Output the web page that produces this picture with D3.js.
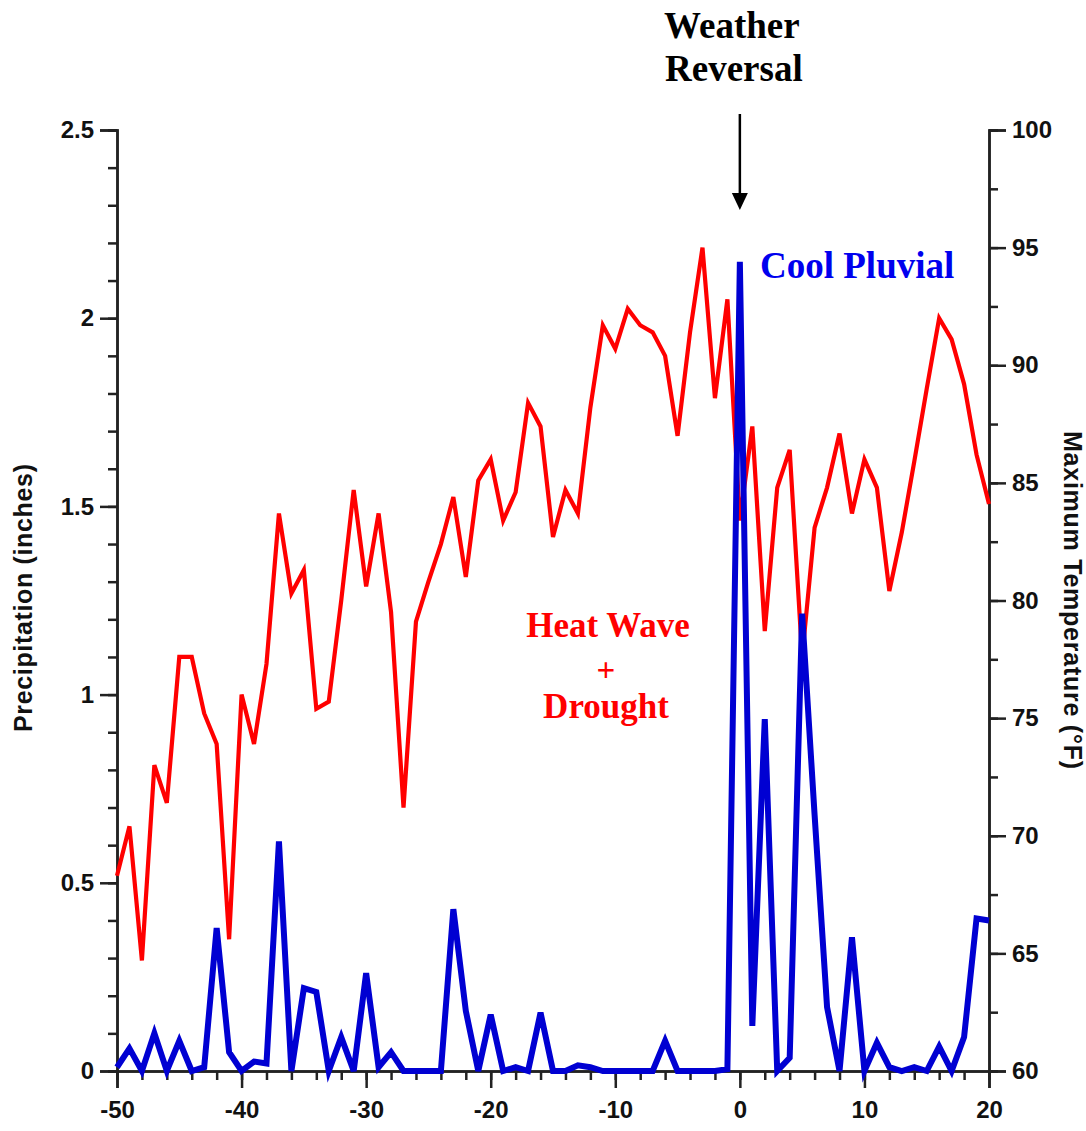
<!DOCTYPE html>
<html>
<head>
<meta charset="utf-8">
<script src="https://cdn.jsdelivr.net/npm/d3@7"></script>
<style>
  body { margin: 0; background: #fff; }
  .tick text { font-family: "Liberation Sans", Arial, sans-serif; font-weight: bold; }
</style>
</head>
<body>
<svg width="1086" height="1131"></svg>
<script>
var width = 1086,
    height = 1131,
    margin = { top: 130, bottom: 60, left: 117, right: 97 }

// days relative to the weather reversal
var days = d3.range(-50, 21)

// maximum temperature (°F), one per day from -50 to 20
var tempF = [
    68.3, 70.4, 64.7, 73.0, 71.4, 77.6, 77.6, 75.2, 73.9, 65.6,
    76.0, 73.9, 77.3, 83.7, 80.3, 81.3, 75.4, 75.7, 80.0, 84.7,
    80.6, 83.7, 79.5, 71.2, 79.1, 80.8, 82.4, 84.4, 81.0, 85.1,
    86.0, 83.4, 84.6, 88.4, 87.4, 82.7, 84.7, 83.7, 88.2, 91.7,
    90.7, 92.4, 91.7, 91.4, 90.4, 87.0, 91.4, 95.0, 88.6, 92.8,
    83.4, 87.4, 78.7, 84.8, 86.4, 77.6, 83.1, 84.8, 87.1, 83.7,
    86.0, 84.8, 80.4, 82.9, 85.9, 89.0, 92.0, 91.1, 89.2, 86.2,
    84.1
]

// precipitation (inches), one per day from -50 to 20
var precip = [
    0.01, 0.06, 0.00, 0.10, 0.00, 0.08, 0.00, 0.01, 0.38, 0.05,
    0.00, 0.025, 0.02, 0.61, 0.00, 0.22, 0.21, 0.00, 0.09, 0.00,
    0.26, 0.01, 0.05, 0.00, 0.00, 0.00, 0.00, 0.43, 0.16, 0.00,
    0.15, 0.00, 0.01, 0.00, 0.155, 0.00, 0.00, 0.015, 0.01, 0.00,
    0.00, 0.00, 0.00, 0.00, 0.08, 0.00, 0.00, 0.00, 0.00, 0.005,
    2.15, 0.12, 0.935, 0.00, 0.035, 1.215, 0.68, 0.17, 0.00, 0.355,
    0.00, 0.075, 0.01, 0.00, 0.01, 0.00, 0.065, 0.00, 0.09, 0.405,
    0.40
]

var xTicks = [-50, -40, -30, -20, -10, 0, 10, 20]
var precipTicks = [0, 0.5, 1, 1.5, 2, 2.5]
var tempTicks = [60, 65, 70, 75, 80, 85, 90, 95, 100]

var innerW = width - margin.left - margin.right,
    innerH = height - margin.top - margin.bottom

var svg = d3.select("svg")
var canvas = svg.append("g")
    .attr("transform", "translate(" + margin.left + "," + margin.top + ")")

var x = d3.scaleLinear().domain([-50, 20]).range([0, innerW])
var yP = d3.scaleLinear().domain([0, 2.5]).range([innerH, 0])
var yT = d3.scaleLinear().domain([60, 100]).range([innerH, 0])

// plain hyphen minus like the original, not the unicode minus
var plain = d => String(d)

// minor ticks first, then the labelled axes on top
function minor(axis, scale, vals, size) {
    return axis(scale).tickValues(vals).tickSize(size).tickFormat("")
}

var xAxisG = canvas.append("g").attr("transform", "translate(0," + innerH + ")")
xAxisG.append("g").call(minor(d3.axisBottom, x, d3.range(-50, 21, 2), 9))
xAxisG.append("g").call(d3.axisBottom(x).tickValues(xTicks).tickSize(17).tickPadding(8).tickFormat(plain))

var leftG = canvas.append("g")
leftG.append("g").call(minor(d3.axisLeft, yP, d3.range(0, 2.51, 0.1), 9))
leftG.append("g").call(d3.axisLeft(yP).tickValues(precipTicks).tickSize(17).tickPadding(6).tickFormat(plain))

var rightG = canvas.append("g").attr("transform", "translate(" + innerW + ",0)")
rightG.append("g").call(minor(d3.axisRight, yT, d3.range(60, 101, 2.5), 9))
rightG.append("g").call(d3.axisRight(yT).tickValues(tempTicks).tickSize(17).tickPadding(6).tickFormat(plain))

canvas.selectAll(".domain").attr("stroke", "#222").attr("stroke-width", 2.5)
canvas.selectAll(".tick line").attr("stroke", "#222").attr("stroke-width", 2.5)
canvas.selectAll(".tick text").attr("font-size", 24).attr("fill", "#111")
xAxisG.selectAll(".tick text").attr("dy", "0.9em")

// data lines
var tempLine = d3.line().x((d, i) => x(days[i])).y(d => yT(d))
var precipLine = d3.line().x((d, i) => x(days[i])).y(d => yP(d))

canvas.append("path").datum(tempF)
    .attr("d", tempLine)
    .attr("fill", "none")
    .attr("stroke", "#ff0000")
    .attr("stroke-width", 4.2)
    .attr("stroke-linejoin", "miter")

canvas.append("path").datum(precip)
    .attr("d", precipLine)
    .attr("fill", "none")
    .attr("stroke", "#0000d2")
    .attr("stroke-width", 6)
    .attr("stroke-linejoin", "miter")

// axis titles
svg.append("text")
    .attr("transform", "translate(32,598) rotate(-90)")
    .attr("text-anchor", "middle")
    .attr("font-family", "Liberation Sans, Arial, sans-serif")
    .attr("font-weight", "bold")
    .attr("font-size", 25)
    .attr("fill", "#111")
    .attr("textLength", 268)
    .text("Precipitation (inches)")

svg.append("text")
    .attr("transform", "translate(1064,600) rotate(90)")
    .attr("text-anchor", "middle")
    .attr("font-family", "Liberation Sans, Arial, sans-serif")
    .attr("font-weight", "bold")
    .attr("font-size", 25)
    .attr("fill", "#111")
    .attr("textLength", 338)
    .text("Maximum Temperature (°F)")

// annotations
var serif = "Liberation Serif, Times New Roman, serif"
var ax = margin.left + x(0)

svg.append("text").attr("x", ax - 8).attr("y", 38)
    .attr("text-anchor", "middle").attr("font-family", serif).attr("font-weight", "bold")
    .attr("font-size", 37).attr("fill", "#000").text("Weather")
svg.append("text").attr("x", ax - 6).attr("y", 81)
    .attr("text-anchor", "middle").attr("font-family", serif).attr("font-weight", "bold")
    .attr("font-size", 37).attr("fill", "#000").text("Reversal")

svg.append("line")
    .attr("x1", ax).attr("x2", ax).attr("y1", 114).attr("y2", 196)
    .attr("stroke", "#000").attr("stroke-width", 2.5)
svg.append("path")
    .attr("d", "M" + (ax - 8) + ",193 L" + (ax + 8) + ",193 L" + ax + ",210 Z")
    .attr("fill", "#000")

svg.append("text").attr("x", 760).attr("y", 278)
    .attr("font-family", serif).attr("font-weight", "bold")
    .attr("font-size", 37).attr("fill", "#0000ee").text("Cool Pluvial")

// three separate lines so each sits at its own height
var hwFont = 35
var hwLines = [["Heat Wave", 608, 637], ["+", 606, 681], ["Drought", 606, 718]]
svg.selectAll(".hw").data(hwLines).enter().append("text")
    .attr("class", "hw")
    .attr("x", d => d[1]).attr("y", d => d[2])
    .attr("text-anchor", "middle")
    .attr("font-family", serif).attr("font-weight", "bold")
    .attr("font-size", (d, i) => i === 1 ? 33 : hwFont)
    .attr("fill", "#ff0000")
    .text(d => d[0])
</script>
</body>
</html>
